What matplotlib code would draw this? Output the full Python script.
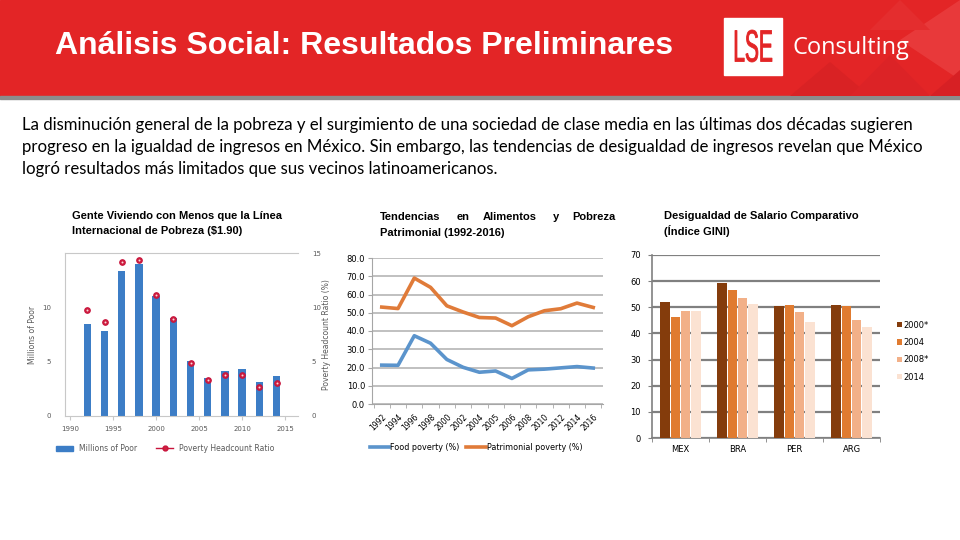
import matplotlib
matplotlib.use("Agg")
import matplotlib.pyplot as plt
from matplotlib.patches import Rectangle, Polygon, PathPatch
from matplotlib.textpath import TextPath
from matplotlib.font_manager import FontProperties
from matplotlib.transforms import Affine2D
from matplotlib.lines import Line2D
import numpy as np

# ==================================================
# DATA
# ==================================================
years_poor = [1992, 1994, 1996, 1998, 2000, 2002, 2004, 2006, 2008, 2010, 2012, 2014]
millions_poor = [8.45, 7.8, 13.3, 14.0, 11.05, 9.05, 5.05, 3.5, 4.15, 4.35, 3.1, 3.7]
headcount_ratio = [9.8, 8.65, 14.2, 14.4, 11.1, 8.9, 4.85, 3.3, 3.8, 3.8, 2.7, 3.0]

trend_years = ["1992", "1994", "1996", "1998", "2000", "2002", "2004", "2005",
               "2006", "2008", "2010", "2012", "2014", "2016"]
food_poverty = [21.3, 21.2, 37.4, 33.3, 24.4, 20.1, 17.4, 18.1, 14.0, 18.7, 19.1, 19.8, 20.5, 19.7]
patrimonial_poverty = [53.1, 52.3, 69.0, 63.9, 53.8, 50.4, 47.4, 47.1, 42.9, 47.8, 51.1, 52.2, 55.3, 52.9]

countries = ["MEX", "BRA", "PER", "ARG"]
gini_labels = ["2000*", "2004", "2008*", "2014"]
gini_2000 = [51.9, 59.1, 50.5, 50.8]
gini_2004 = [46.1, 56.7, 50.9, 50.4]
gini_2008 = [48.4, 53.6, 48.2, 45.2]
gini_2014 = [48.4, 51.3, 44.2, 42.6]

W, H = 960, 540


def box(l, t, r, b):
    return [l / W, 1 - b / H, (r - l) / W, (b - t) / H]


def ftext(x, y, s, **kw):
    fig.text(x / W, 1 - y / H, s, **kw)


fig = plt.figure(figsize=(9.6, 5.4), dpi=100)
fig.patch.set_facecolor("white")

# ==================================================
# HEADER
# ==================================================
RED = "#e32526"
fig.add_artist(Rectangle((0, 1 - 96 / H), 1, 96 / H, transform=fig.transFigure,
                         color=RED, zorder=0))
fig.add_artist(Rectangle((0, 1 - 99 / H), 1, 3 / H, transform=fig.transFigure,
                         color="#8c8c8c", zorder=0))
# faint triangles behind the logo
tris = [
    ([(790, 96), (830, 62), (870, 96)], "#d92224"),
    ([(850, 96), (890, 55), (930, 96)], "#dc2326"),
    ([(900, 40), (960, 0), (960, 80)], "#e8393a"),
    ([(930, 96), (960, 70), (960, 96)], "#d72024"),
    ([(870, 30), (900, 0), (930, 30)], "#e42d2e"),
]
for pts, c in tris:
    fig.add_artist(Polygon([(x / W, 1 - y / H) for x, y in pts], closed=True,
                           transform=fig.transFigure, color=c, zorder=0.5, lw=0))

ftext(55, 46, "Análisis Social: Resultados Preliminares", fontsize=23,
      color="white", family="Liberation Sans", weight="bold", va="center")

# logo
fig.add_artist(Rectangle((724 / W, 1 - 75 / H), 58 / W, 57 / H,
                         transform=fig.transFigure, color="white", zorder=2))
tp = TextPath((0, 0), "LSE", size=1, prop=FontProperties(family="Liberation Sans"))
ext = tp.get_extents()
sx = 37 / ext.width / 100
sy = 32 / ext.height / 100
tr = (Affine2D().translate(-ext.x0, -ext.y0).scale(sx, sy)
      .translate(735 / 100, (H - 62) / 100) + fig.dpi_scale_trans)
fig.add_artist(PathPatch(tp, transform=tr, color=RED, lw=0.6, zorder=3))
ftext(793, 48, "Consulting", fontsize=17, color="white", family="Open Sans",
      va="center", zorder=3)

# ==================================================
# PARAGRAPH
# ==================================================
para = [
    "La disminución general de la pobreza y el surgimiento de una sociedad de clase media en las últimas dos décadas sugieren",
    "progreso en la igualdad de ingresos en México. Sin embargo, las tendencias de desigualdad de ingresos revelan que México",
    "logró resultados más limitados que sus vecinos latinoamericanos.",
]
for i, line in enumerate(para):
    ftext(22, 125 + 22 * i, line, fontsize=12.1, family="Lato", color="black", va="center")

# ==================================================
# CHART 1 - Millions of poor
# ==================================================
GRAY_TXT = "#595959"
ax1 = fig.add_axes(box(65, 253, 298, 416))
ax1.bar(years_poor, millions_poor, width=0.85, color="#3c7dc6", zorder=2)
ax1.set_xlim(1989.4, 2016.5)
ax1.set_ylim(0, 15)
ax1.set_yticks([0, 5, 10])
ax1.set_xticks([1990, 1995, 2000, 2005, 2010, 2015])
for s in ["left", "bottom", "top"]:
    ax1.spines[s].set_color("#c8c8c8")
ax1.spines["right"].set_visible(False)
ax1.tick_params(axis="y", length=0, pad=10, labelsize=5, labelcolor=GRAY_TXT)
ax1.tick_params(axis="x", length=3, color="#c8c8c8", pad=4, labelsize=5, labelcolor=GRAY_TXT)
ax1.set_ylabel("Millions of Poor", fontsize=5.5, color=GRAY_TXT, labelpad=4)

ax1b = ax1.twinx()
ax1b.plot(years_poor, headcount_ratio, ls="none", marker="o", ms=4,
          mfc="#d0203f", mec="#c8143c", mew=0.8, zorder=3)
ax1b.plot(years_poor, headcount_ratio, ls="none", marker="o", ms=1.4,
          mfc="#f6d6dc", mec="none", zorder=4)
ax1b.set_ylim(0, 15)
ax1b.set_yticks([0, 5, 10, 15])
for s in ["left", "bottom", "top", "right"]:
    ax1b.spines[s].set_visible(False)
ax1b.tick_params(axis="y", length=0, pad=10, labelsize=5, labelcolor=GRAY_TXT)
ax1b.set_ylabel("Poverty Headcount Ratio (%)", fontsize=5.5, color=GRAY_TXT, labelpad=1)

h1 = [Rectangle((0, 0), 1, 1, color="#3c7dc6"),
      Line2D([], [], color="#c8143c", marker="o", ms=3.5, mfc="#d0203f", mec="#c8143c", lw=1)]
ax1.legend(h1, ["Millions of Poor", "Poverty Headcount Ratio"], loc="center",
           bbox_to_anchor=(0.43, -0.2), ncol=2, frameon=False, fontsize=5.5,
           labelcolor=GRAY_TXT, handlelength=2.2, columnspacing=2.5)

ftext(72, 216, "Gente Viviendo con Menos que la Línea", fontsize=8,
      family="Liberation Sans", weight="bold", va="center")
ftext(72, 231, "Internacional de Pobreza ($1.90)", fontsize=8,
      family="Liberation Sans", weight="bold", va="center")

# ==================================================
# CHART 2 - Food / patrimonial poverty
# ==================================================
ax2 = fig.add_axes(box(372, 258, 603, 404))
x2 = np.arange(len(trend_years))
ax2.plot(x2, food_poverty, color="#5b94cc", lw=2.6, label="Food poverty (%)", zorder=3)
ax2.plot(x2, patrimonial_poverty, color="#e07b39", lw=2.6, label="Patrimonial poverty (%)", zorder=3)
ax2.set_xlim(-0.6, 13.6)
ax2.set_ylim(0, 80)
ax2.set_yticks(np.arange(0, 81, 10))
ax2.set_yticklabels([f"{v:.1f}" for v in np.arange(0, 81, 10)])
ax2.yaxis.grid(True, color="#c0c0c0", lw=1.4)
ax2.set_axisbelow(True)
ax2.set_xticks(x2)
ax2.set_xticklabels(trend_years, rotation=45, ha="right", rotation_mode="anchor")
ax2.set_xticks(np.arange(-0.5, 14, 1), minor=True)
ax2.tick_params(axis="x", which="major", length=0, pad=6, labelsize=5.5)
ax2.tick_params(axis="x", which="minor", length=3, color="#a6a6a6")
ax2.tick_params(axis="y", length=3, color="#a6a6a6", labelsize=6, pad=2)
for s in ["top", "right"]:
    ax2.spines[s].set_visible(False)
for s in ["left", "bottom"]:
    ax2.spines[s].set_color("#a6a6a6")
ax2.legend(loc="center", bbox_to_anchor=(0.45, -0.3), ncol=2, frameon=False,
           fontsize=5.8, handlelength=2.4, columnspacing=0.9, handletextpad=0.1)

t2_words = [("Tendencias", 380), ("en", 457), ("Alimentos", 483), ("y", 553), ("Pobreza", 572)]
for w, x in t2_words:
    ftext(x, 217, w, fontsize=8, family="Liberation Sans", weight="bold", va="center")
ftext(380, 233, "Patrimonial (1992-2016)", fontsize=8, family="Liberation Sans",
      weight="bold", va="center")

# ==================================================
# CHART 3 - GINI comparison
# ==================================================
ax3 = fig.add_axes(box(652, 255, 880, 438))
x3 = np.arange(len(countries))
series3 = [gini_2000, gini_2004, gini_2008, gini_2014]
colors3 = ["#843c0c", "#e07b30", "#f2b088", "#fbe2d2"]
for i, (vals, c, lab) in enumerate(zip(series3, colors3, gini_labels)):
    ax3.bar(x3 + (i - 1.5) * 0.18, vals, width=0.165, color=c, label=lab, zorder=3)
ax3.set_xlim(-0.5, 3.5)
ax3.set_ylim(0, 70)
ax3.set_yticks(np.arange(0, 71, 10))
ax3.yaxis.grid(True, color="#808080", lw=1.6)
ax3.set_axisbelow(True)
ax3.set_xticks(x3)
ax3.set_xticklabels(countries)
ax3.set_xticks(np.arange(-0.5, 4, 1), minor=True)
ax3.tick_params(axis="x", which="major", length=0, pad=5, labelsize=6)
ax3.tick_params(axis="x", which="minor", length=3, color="#808080")
ax3.tick_params(axis="y", length=3, color="#808080", labelsize=6, pad=5)
for s in ["top", "right"]:
    ax3.spines[s].set_visible(False)
for s in ["left", "bottom"]:
    ax3.spines[s].set_color("#808080")
    ax3.spines[s].set_linewidth(1.2)
ax3.legend(loc="center left", bbox_to_anchor=(1.06, 0.475), borderaxespad=0,
           frameon=False, fontsize=6, handlelength=0.6, handleheight=0.6,
           handletextpad=0.2, labelspacing=1.0)

ftext(664, 216, "Desigualdad de Salario Comparativo", fontsize=8,
      family="Liberation Sans", weight="bold", va="center")
ftext(664, 231, "(Índice GINI)", fontsize=8, family="Liberation Sans",
      weight="bold", va="center")

fig.savefig("out.png", dpi=100)
